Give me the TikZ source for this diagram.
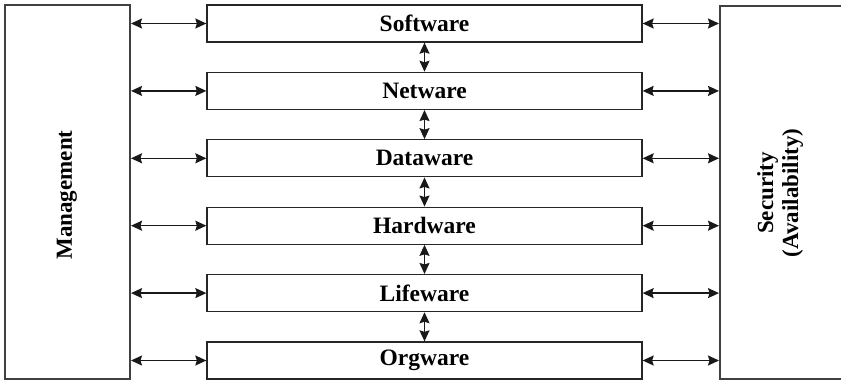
\documentclass[tikz,border=0pt]{standalone}
\usepackage{fontspec}
\setmainfont{Liberation Serif}
\usetikzlibrary{arrows.meta,calc}
\begin{document}
\begin{tikzpicture}[x=1pt,y=-1pt,
  lay/.style={draw=black!85,line width=1.3pt,minimum width=435pt,minimum height=37pt,
    inner sep=0pt,font=\fontsize{23.5}{25}\selectfont\bfseries},
  side/.style={draw=black!75,line width=1.3pt,inner sep=0pt},
  arr/.style={{Stealth[length=11pt,width=10pt,inset=1.5pt]}-{Stealth[length=11pt,width=10pt,inset=1.5pt]},line width=1.4pt,black!90},
  lbl/.style={font=\fontsize{23}{25}\selectfont\bfseries,align=center,rotate=90}]
\useasboundingbox (0,0) rectangle (841,380);

% side columns
\draw[side] (5,5) rectangle (130,379);
\draw[side] (720,6) rectangle (845,379);
\coordinate (mgmtE) at (131,190);
\coordinate (secW) at (719,190);
\node[lbl] (mgmt) at (67,195) {Management};
\node[lbl] (sec) at (780,193) {Security\\(Availability)};

% central layers
\node[lay] (b1) at (424.5,23.5) {Software};
\node[lay] (b2) at (424.5,90.9) {Netware};
\node[lay] (b3) at (424.5,158.3) {Dataware};
\node[lay] (b4) at (424.5,225.7) {Hardware};
\node[lay] (b5) at (424.5,293.1) {Lifeware};
\node[lay] (b6) at (424.5,360.5) {Orgware};

\foreach \i in {1,...,6}{
  \draw[arr] (mgmtE |- b\i.west) -- (b\i.west);
  \draw[arr] (b\i.east) -- (secW |- b\i.east);
}
\foreach \i/\j in {1/2,2/3,3/4,4/5,5/6}{
  \draw[arr] (b\i.south) -- (b\j.north);
}
\end{tikzpicture}
\end{document}
